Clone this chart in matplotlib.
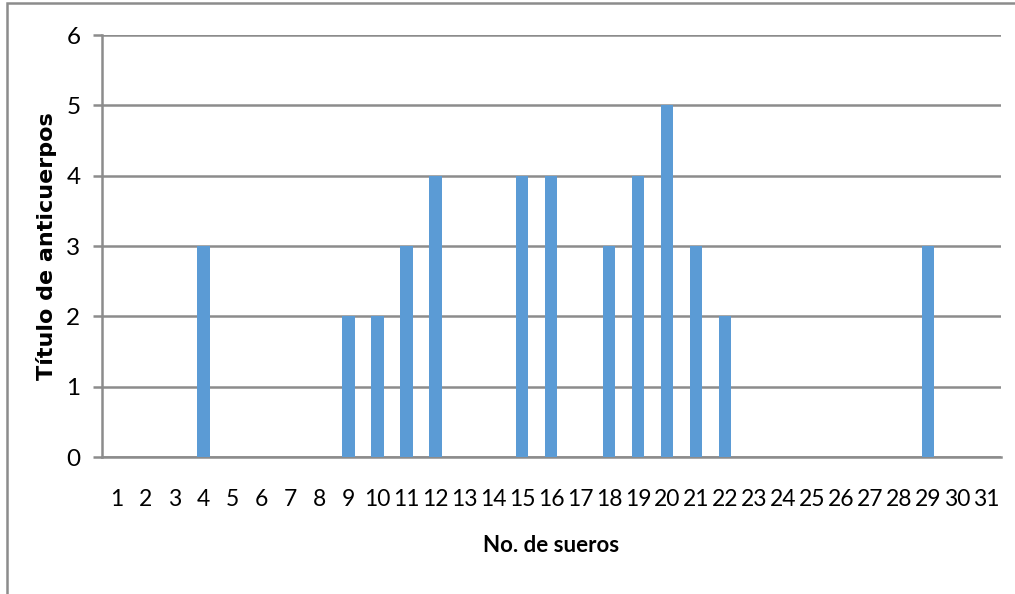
import matplotlib
matplotlib.use('Agg')
import matplotlib.pyplot as plt
import numpy as np
from matplotlib.patches import Rectangle

# Serum numbers and antibody titre
sueros = list(range(1, 32))
titulos = [0, 0, 0, 3, 0, 0, 0, 0, 2, 2, 3, 4, 0, 0, 4, 4, 0, 3, 4, 5,
           3, 2, 0, 0, 0, 0, 0, 0, 3, 0, 0]
y_ticks = [0, 1, 2, 3, 4, 5, 6]

bar_color = '#5B9BD5'
grid_color = '#8C8C8C'
label_font = ['Lato', 'DejaVu Sans']

fig = plt.figure(figsize=(10.15, 5.94), dpi=100)
ax = fig.add_axes([0.1005, 0.2306, 0.8855, 0.7104])

x = np.arange(len(sueros))
ax.bar(x, titulos, width=0.42, color=bar_color, zorder=3)

ax.set_xlim(-0.5, len(sueros) - 0.5)
ax.set_ylim(0, 6)
ax.set_yticks(y_ticks)
ax.set_xticks(x)
ax.set_xticklabels([str(s) for s in sueros], family=label_font, fontsize=16.5)
ax.set_yticklabels([str(v) for v in y_ticks], family=label_font, fontsize=17.5)

ax.yaxis.grid(True, color=grid_color, linewidth=1.8, zorder=0)
for side in ['top', 'right']:
    ax.spines[side].set_visible(False)
for side in ['left', 'bottom']:
    ax.spines[side].set_color(grid_color)
    ax.spines[side].set_linewidth(1.8)

ax.tick_params(axis='y', length=6.5, width=1.8, color=grid_color, pad=9)
ax.tick_params(axis='x', length=0, pad=23)

ax.set_ylabel('Título de anticuerpos', fontsize=16, fontweight='bold',
              family='DejaVu Sans', labelpad=7)
fig.text(0.543, 0.082, 'No. de sueros', fontsize=16, fontweight='bold',
         family=label_font, ha='center', va='center')

# outer chart frame
fig.patches.append(Rectangle((7 / 1015, -0.05), 1.1, 1.05 - 3 / 594,
                             transform=fig.transFigure, fill=False,
                             edgecolor='#8C8C8C', linewidth=1.8))

fig.savefig('out.png', dpi=100)
